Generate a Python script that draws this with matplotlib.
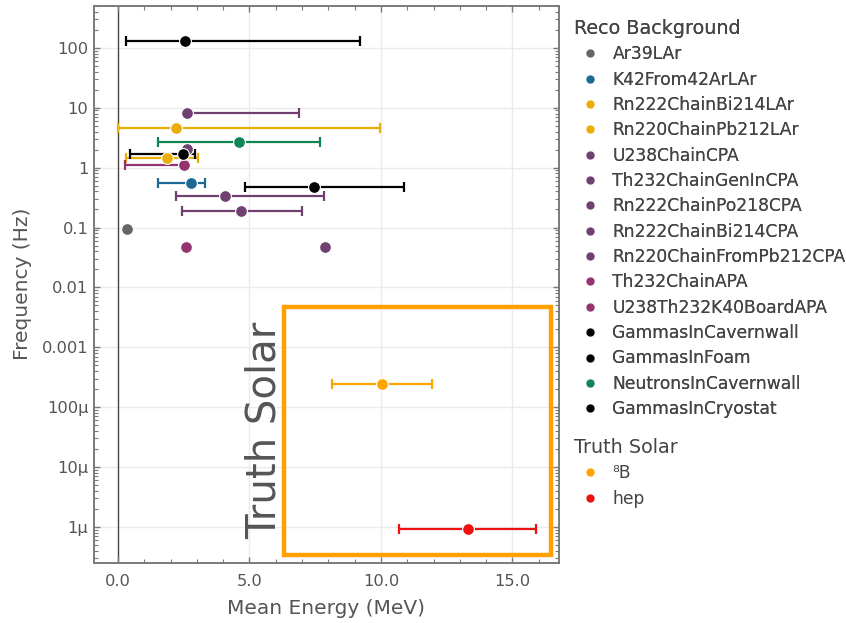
import matplotlib
matplotlib.use("Agg")
import matplotlib.pyplot as plt
from matplotlib.lines import Line2D
from matplotlib.patches import Rectangle
from matplotlib.ticker import FixedLocator, FixedFormatter, LogLocator, MultipleLocator, NullFormatter
import numpy as np

plt.rcParams['font.family'] = ['DejaVu Sans']

# ---- Reco background data ----
bkg_names = ["Ar39LAr", "K42From42ArLAr", "Rn222ChainBi214LAr", "Rn220ChainPb212LAr",
             "U238ChainCPA", "Th232ChainGenInCPA", "Rn222ChainPo218CPA", "Rn222ChainBi214CPA",
             "Rn220ChainFromPb212CPA", "Th232ChainAPA", "U238Th232K40BoardAPA",
             "GammasInCavernwall", "GammasInFoam", "NeutronsInCavernwall", "GammasInCryostat"]
bkg_colors = ["#666666", "#1d6996", "#edad08", "#edad08",
              "#6f4070", "#6f4070", "#6f4070", "#6f4070", "#6f4070",
              "#94346e", "#94346e",
              "#000000", "#000000", "#0f8554", "#000000"]
bkg_energy = [0.33, 2.76, 2.20, 1.87, 2.62, 4.08, 4.68, 2.61, 7.87, 2.51, 2.60, 2.46, 7.44, 4.60, 2.55]
bkg_freq = [0.095, 0.56, 4.6, 1.44, 8.2, 0.33, 0.19, 2.06, 0.048, 1.10, 0.048, 1.68, 0.47, 2.73, 130.0]
bkg_err_lo = [0.0, 1.25, 2.20, 1.55, 0.0, 1.89, 2.25, 0.0, 0.0, 2.23, 0.0, 2.02, 2.62, 3.07, 2.26]
bkg_err_hi = [0.0, 0.56, 7.76, 1.17, 4.28, 3.74, 2.32, 0.0, 0.0, 0.0, 0.0, 0.47, 3.43, 3.07, 6.65]

# ---- Truth solar data ----
sol_names = ["\u2078B", "hep"]
sol_colors = ["#ffa500", "#ee1111"]
sol_energy = [10.04, 13.30]
sol_freq = [2.45e-4, 9.4e-7]
sol_err_lo = [1.90, 2.63]
sol_err_hi = [1.91, 2.60]

ytick_vals = [1e-6, 1e-5, 1e-4, 1e-3, 1e-2, 1e-1, 1, 10, 100]
ytick_labels = ["1\u03bc", "10\u03bc", "100\u03bc", "0.001", "0.01", "0.1", "1", "10", "100"]
xtick_vals = [0, 5, 10, 15]
xtick_labels = ["0.0", "5.0", "10.0", "15.0"]

fig = plt.figure(figsize=(8.46, 6.23), dpi=100)
ax = fig.add_axes([94/846, 60/623, (559-94)/846, (563-6)/623])
ax.set_yscale('log')
ax.set_xlim(-0.91, 16.77)
ax.set_ylim(2.5e-7, 500)

grid_c = "#ebebeb"
for v in xtick_vals:
    if v != 0:
        ax.axvline(v, color=grid_c, lw=1, zorder=0)
for v in ytick_vals:
    ax.axhline(v, color=grid_c, lw=1, zorder=0)
ax.axvline(0, color="#444444", lw=1, zorder=0.5)

def draw(xs, ys, lo, hi, cols, z):
    for x, y, l, h, c in zip(xs, ys, lo, hi, cols):
        if l > 0 or h > 0:
            ax.errorbar([x], [y], xerr=[[l], [h]], fmt='none', ecolor=c, elinewidth=1.6,
                        capsize=3.5, capthick=1.6, zorder=z)
        ax.plot([x], [y], 'o', color=c, markersize=8.5, markeredgecolor='white',
                markeredgewidth=0.8, zorder=z + 0.1)

draw(bkg_energy, bkg_freq, bkg_err_lo, bkg_err_hi, bkg_colors, 3)
draw(sol_energy, sol_freq, sol_err_lo, sol_err_hi, sol_colors, 3)

# Box around solar region
ax.add_patch(Rectangle((6.31, 3.4e-7), 16.46 - 6.31, 4.7e-3 - 3.4e-7, fill=False,
                       edgecolor="#ffa000", lw=3.2, zorder=4))
fig.text(265/846, 1 - 430/623, "Truth Solar", rotation=90, ha='center', va='center',
         fontsize=29, color="#555555")

ax.yaxis.set_major_locator(FixedLocator(ytick_vals))
ax.yaxis.set_major_formatter(FixedFormatter(ytick_labels))
ax.yaxis.set_minor_locator(LogLocator(base=10, subs=np.arange(2, 10), numticks=20))
ax.yaxis.set_minor_formatter(NullFormatter())
ax.xaxis.set_major_locator(FixedLocator(xtick_vals))
ax.xaxis.set_major_formatter(FixedFormatter(xtick_labels))
ax.xaxis.set_minor_locator(MultipleLocator(1))

spine_c = "#7a7a7a"
for s in ax.spines.values():
    s.set_color(spine_c)
    s.set_linewidth(1.4)
ax.tick_params(which='both', direction='in', top=True, right=True, color=spine_c,
               labelcolor="#555555", labelsize=11.7)
ax.tick_params(which='major', length=4, width=1)
ax.tick_params(which='minor', length=3, width=0.8)
ax.tick_params(axis='x', pad=8)
ax.tick_params(axis='y', pad=4)

fig.text(22/846, 1 - 284/623, "Frequency (Hz)", rotation=90, ha='center', va='center',
         fontsize=14.5, color="#555555")
fig.text(326/846, 1 - 609/623, "Mean Energy (MeV)", ha='center', va='center',
         fontsize=14.5, color="#555555")

def mk(c):
    return Line2D([], [], marker='o', linestyle='none', color=c, markersize=6.5,
                  markeredgecolor='white', markeredgewidth=0.5)

legkw = dict(loc='upper left', frameon=False, fontsize=12.3, title_fontsize=13.8,
             labelspacing=0.43, handletextpad=0.35, handlelength=1.9, borderaxespad=0,
             borderpad=0)
leg1 = fig.legend([mk(c) for c in bkg_colors], bkg_names, title="Reco Background",
                  bbox_to_anchor=(574/846, 1 - 19/623), **legkw)
leg1._legend_box.align = "left"
for t in leg1.get_texts():
    t.set_color("#444444")
leg1.get_title().set_color("#444444")
fig.add_artist(leg1)
leg2 = fig.legend([mk(c) for c in sol_colors], sol_names, title="Truth Solar",
                  bbox_to_anchor=(574/846, 1 - 438/623), **legkw)
leg2._legend_box.align = "left"
for t in leg2.get_texts():
    t.set_color("#444444")
leg2.get_title().set_color("#444444")

fig.savefig("out.png", dpi=100)
